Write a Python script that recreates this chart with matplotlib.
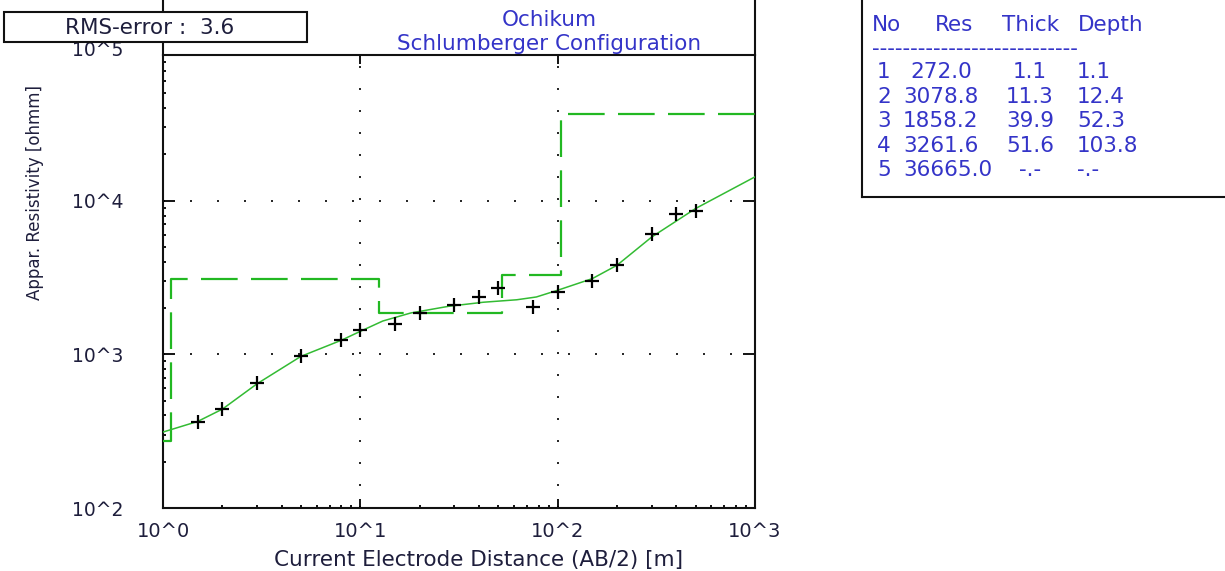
import matplotlib
matplotlib.use("Agg")
import matplotlib.pyplot as plt
from matplotlib.lines import Line2D
from matplotlib.patches import Rectangle
from matplotlib.ticker import LogLocator, NullFormatter

# measured apparent resistivity (crosses)
ab2_obs = [1.5, 2, 3, 5, 8, 10, 15, 20, 30, 40, 50, 75, 100, 150, 200, 300, 400, 500]
rho_obs = [362, 438, 650, 981, 1247, 1433, 1568, 1869, 2108, 2362, 2720, 2032,
           2535, 3012, 3817, 6113, 8166, 8592]

# fitted curve
ab2_fit = [1, 1.5, 2, 3, 5, 8, 10, 13, 18, 28, 42, 62, 78, 100, 150, 200, 300, 500, 1000]
rho_fit = [312, 366, 440, 644, 970, 1234, 1412, 1648, 1858, 2054, 2183, 2265, 2362,
           2612, 3112, 3802, 5807, 8891, 14290]

# layered model
layer_no = [1, 2, 3, 4, 5]
layer_res = [272.0, 3078.8, 1858.2, 3261.6, 36665.0]
layer_thick = [1.1, 11.3, 39.9, 51.6]
layer_depth = [1.1, 12.4, 52.3, 103.8]

rms_error = 3.6

x_ticks = [1, 10, 100, 1000]
x_ticklabels = ["10^0", "10^1", "10^2", "10^3"]
y_ticks = [100, 1000, 10000]
y_ticklabels = ["10^2", "10^3", "10^4"]

W, H = 1225, 571
BLUE = "#3434c8"
DARK = "#1e1e3c"
GREEN = "#22b822"


def fx(px):
    return px / W


def fy(py):
    return 1 - py / H


fig = plt.figure(figsize=(W / 100, H / 100), dpi=100)
fig.patch.set_facecolor("white")
ax = fig.add_axes([fx(163), fy(508), fx(755) - fx(163), fy(55) - fy(508)])

ax.set_xscale("log")
ax.set_yscale("log")
ax.set_xlim(1, 1000)
ax.set_ylim(100, 10 ** 4.948)

# model steps from the layer table
step_x = [1] + layer_depth + [1000]
step_y = layer_res + [layer_res[-1]]
ax.step(step_x, step_y, where="post", color=GREEN, lw=1.6, dashes=(16.5, 6), zorder=3)

ax.plot(ab2_fit, rho_fit, color="#33bb33", lw=1.1, zorder=4)
ax.plot(ab2_obs, rho_obs, ls="none", marker="+", ms=10.5, mew=1.6, color="black", zorder=5)

# dotted grid, only inner decades
for xv in x_ticks[1:-1]:
    ax.axvline(xv, color="black", lw=1.2, ls=(0, (1.2, 12)), zorder=1)
for yv in y_ticks[1:]:
    ax.axhline(yv, color="black", lw=1.2, ls=(0, (1.2, 15)), zorder=1)

ax.set_xticks(x_ticks)
ax.set_xticklabels(x_ticklabels)
ax.set_yticks(y_ticks)
ax.set_yticklabels(y_ticklabels)
ax.xaxis.set_minor_locator(LogLocator(base=10, subs=range(2, 10), numticks=20))
ax.yaxis.set_minor_locator(LogLocator(base=10, subs=range(2, 10), numticks=20))
ax.xaxis.set_minor_formatter(NullFormatter())
ax.yaxis.set_minor_formatter(NullFormatter())

ax.tick_params(axis="both", which="both", direction="in", top=True, right=True,
               colors="black", labelcolor=DARK, width=1.3)
ax.tick_params(axis="x", which="major", length=6.5, pad=10, labelsize=14)
ax.tick_params(axis="y", which="major", length=8.5, pad=28.8, labelsize=13.5)
ax.tick_params(axis="both", which="minor", length=2.5, top=False, right=False)

# 10^5 label sits just above the frame
ax.annotate("10^5", xy=(0, 1e5), xycoords=ax.get_yaxis_transform(),
            xytext=(-28.8, -2.5), textcoords="offset points", ha="right", va="center",
            fontsize=13.5, color=DARK, annotation_clip=False, zorder=12)

for s in ax.spines.values():
    s.set_linewidth(1.5)
    s.set_color("#111111")

ax.set_xlabel("Current Electrode Distance (AB/2) [m]", fontsize=15.5, color=DARK, va="center")
ax.xaxis.set_label_coords((479 - 163) / 592, (508 - 560) / 453)
ax.set_ylabel("Appar. Resistivity [ohmm]", fontsize=12, color=DARK,
              va="center", ha="center", rotation_mode="default")
ax.yaxis.set_label_coords((35 - 163) / 592, (508 - 192) / 453)

# frame lines running to the top edge
for px in (163, 755):
    fig.add_artist(Line2D([fx(px), fx(px)], [fy(55), 1], color="#111111", lw=1.5))

# title
fig.text(fx(549), fy(20), "Ochikum", color=BLUE, fontsize=15.5, ha="center", va="center")
fig.text(fx(549), fy(44), "Schlumberger Configuration", color=BLUE, fontsize=15.5,
         ha="center", va="center")

# rms box
fig.add_artist(Rectangle((fx(4), fy(42)), fx(307) - fx(4), fy(12) - fy(42),
                         transform=fig.transFigure, facecolor="white",
                         edgecolor="#111111", lw=1.5, zorder=10))
fig.text(fx(150), fy(28), f"RMS-error :  {rms_error}", fontsize=15.5, color=DARK,
         ha="center", va="center", zorder=11)

# layer table
fig.add_artist(Line2D([fx(862), fx(862)], [fy(197), 1], color="#111111", lw=1.5))
fig.add_artist(Line2D([fx(862), 1], [fy(197), fy(197)], color="#111111", lw=1.5))

tsize = 15.5
fig.text(fx(872), fy(25), "No", color=BLUE, fontsize=tsize, va="center")
fig.text(fx(935), fy(25), "Res", color=BLUE, fontsize=tsize, va="center")
fig.text(fx(1002), fy(25), "Thick", color=BLUE, fontsize=tsize, va="center")
fig.text(fx(1078), fy(25), "Depth", color=BLUE, fontsize=tsize, va="center")
fig.text(fx(872), fy(49), "-" * 27, color=BLUE, fontsize=tsize, va="center")

for i, no in enumerate(layer_no):
    y = fy(72.5 + 24.4 * i)
    thick = f"{layer_thick[i]:.1f}" if i < len(layer_thick) else "-.-"
    depth = f"{layer_depth[i]:.1f}" if i < len(layer_depth) else "-.-"
    fig.text(fx(877), y, str(no), color=BLUE, fontsize=tsize, va="center")
    fig.text(fx(903) if no != 1 else fx(910), y, f"{layer_res[i]:.1f}", color=BLUE,
             fontsize=tsize, va="center")
    fig.text(fx(1030), y, thick, color=BLUE, fontsize=tsize, va="center", ha="center")
    fig.text(fx(1077), y, depth, color=BLUE, fontsize=tsize, va="center")

fig.savefig("out.png", dpi=100, facecolor="white")
